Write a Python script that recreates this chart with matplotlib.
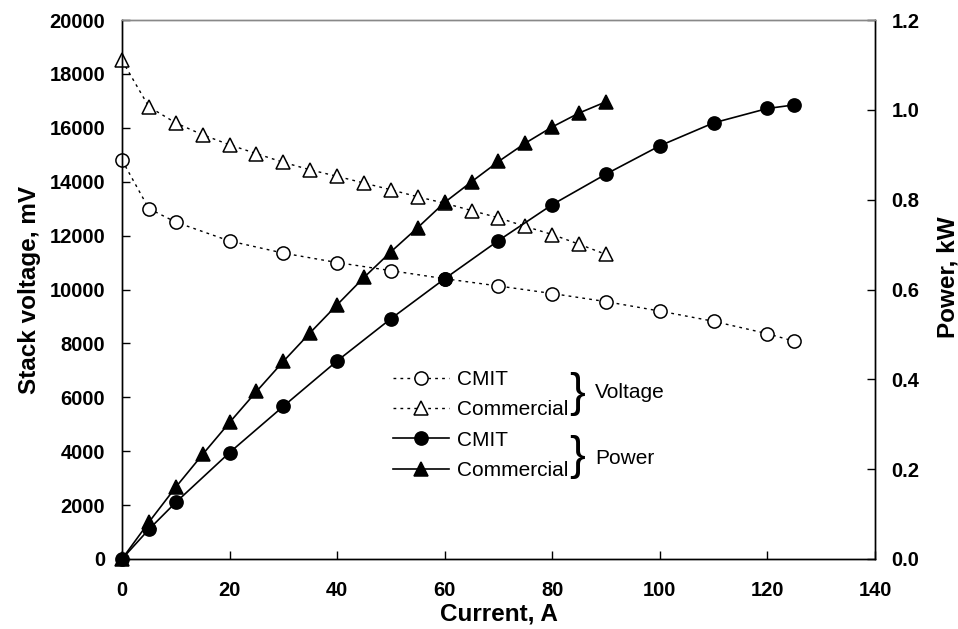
import matplotlib
matplotlib.use("Agg")
import matplotlib.pyplot as plt

plt.rcParams['font.family'] = ['Liberation Sans', 'DejaVu Sans']

# current, A
cmit_current = [0, 5, 10, 20, 30, 40, 50, 60, 70, 80, 90, 100, 110, 120, 125]
comm_current = [0, 5, 10, 15, 20, 25, 30, 35, 40, 45, 50, 55, 60, 65, 70, 75, 80, 85, 90]

# stack voltage, mV
cmit_voltage = [14800, 13000, 12500, 11800, 11350, 11000, 10700, 10400, 10130,
                9850, 9550, 9200, 8820, 8360, 8080]
comm_voltage = [18500, 16780, 16180, 15740, 15370, 15040, 14720, 14440, 14200,
                13950, 13700, 13440, 13200, 12930, 12660, 12340, 12040, 11680, 11300]

# power, kW
cmit_power = [0.0, 0.066, 0.126, 0.237, 0.340, 0.441, 0.535, 0.624, 0.709,
              0.789, 0.857, 0.920, 0.971, 1.003, 1.011]
comm_power = [0.0, 0.082, 0.160, 0.233, 0.304, 0.373, 0.440, 0.504, 0.566,
              0.627, 0.684, 0.738, 0.794, 0.840, 0.885, 0.926, 0.962, 0.993, 1.018]

labels = ["CMIT", "Commercial", "CMIT", "Commercial"]

fig = plt.figure(figsize=(9.58, 6.29), dpi=100)
ax = fig.add_axes([122 / 958, 70 / 629, 753 / 958, 539 / 629])
ax2 = ax.twinx()

dots = (0, (2, 3))
mk = dict(markersize=9.5, markeredgewidth=1.1, markeredgecolor="black", clip_on=False)

l1, = ax.plot(cmit_current, cmit_voltage, color="black", lw=1.0, ls=dots,
              marker="o", markerfacecolor="white", **mk)
l2, = ax.plot(comm_current, comm_voltage, color="black", lw=1.0, ls=dots,
              marker="^", markerfacecolor="white", **mk)
l3, = ax2.plot(cmit_current, cmit_power, color="black", lw=1.2,
               marker="o", markerfacecolor="black", **mk)
l4, = ax2.plot(comm_current, comm_power, color="black", lw=1.2,
               marker="^", markerfacecolor="black", **mk)

ax.set_xlim(0, 140)
ax.set_ylim(0, 20000)
ax2.set_ylim(0, 1.2)
ax.set_xticks(range(0, 141, 20))
ax.set_yticks(range(0, 20001, 2000))
ax2.set_yticks([0.0, 0.2, 0.4, 0.6, 0.8, 1.0, 1.2])
ax2.set_yticklabels(["%.1f" % v for v in ax2.get_yticks()])

for a in (ax, ax2):
    for s in a.spines.values():
        s.set_color("black")
        s.set_linewidth(1.0)
    a.spines["top"].set_color("#888888")

ax.tick_params(axis="x", direction="in", length=6, width=1, pad=16, labelsize=14.5)
ax.tick_params(axis="y", direction="in", length=6, width=1, pad=12, labelsize=14.5)
ax2.tick_params(axis="y", direction="in", length=6, width=1, pad=12, labelsize=14.5)
for t in ax.get_xticklabels() + ax.get_yticklabels() + ax2.get_yticklabels():
    t.set_fontweight("bold")

ax.set_xlabel("Current, A", fontsize=17.5, fontweight="bold", labelpad=2)
ax.set_ylabel("Stack voltage, mV", fontsize=17.5, fontweight="bold", labelpad=6)
ax2.set_ylabel("Power, kW", fontsize=17.5, fontweight="bold")
ax2.yaxis.set_label_coords(1.082, 0.523)

ax2.legend([l1, l2, l3, l4], labels, loc="upper left", bbox_to_anchor=(0.36, 0.351),
           frameon=False, fontsize=15, handlelength=2.7, handletextpad=0.35,
           labelspacing=0.55, borderpad=0, borderaxespad=0)

ax2.text(0.604, 0.306, "}", transform=ax2.transAxes, fontsize=34,
         ha="center", va="center")
ax2.text(0.628, 0.308, "Voltage", transform=ax2.transAxes, fontsize=15,
         ha="left", va="center")
ax2.text(0.604, 0.189, "}", transform=ax2.transAxes, fontsize=34,
         ha="center", va="center")
ax2.text(0.628, 0.187, "Power", transform=ax2.transAxes, fontsize=15,
         ha="left", va="center")

fig.savefig("out.png", dpi=100)
